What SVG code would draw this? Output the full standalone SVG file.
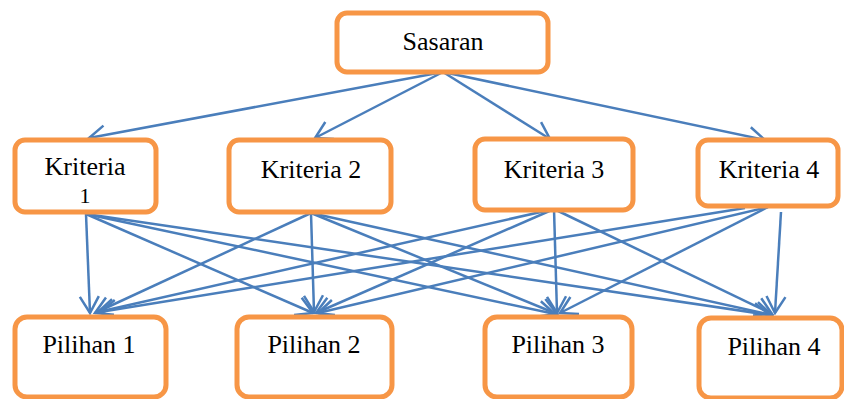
<svg xmlns="http://www.w3.org/2000/svg" width="844" height="399" viewBox="0 0 844 399">
<style>
.box{fill:#fff;stroke:#F79646;stroke-width:5}
.lbl{font-family:"Liberation Serif","Times New Roman",serif;font-size:26px;fill:#000;text-anchor:middle}
.conn line{stroke:#4A7EBB;stroke-width:2.5;marker-end:url(#arr)}
</style>
<defs>
<marker id="arr" markerUnits="userSpaceOnUse" viewBox="-20 -12 22 24" refX="0" refY="0" markerWidth="22" markerHeight="24" orient="auto">
<path d="M-16.5,-9.5 L0,0 L-16.5,9.5" fill="none" stroke="#4A7EBB" stroke-width="2.5"/>
</marker>
</defs>
<rect width="844" height="399" fill="#fff"/>
<g class="conn" id="connectors">
<line x1="443" y1="72" x2="89" y2="138"/>
<line x1="443" y1="72" x2="315" y2="138"/>
<line x1="443" y1="72" x2="550" y2="139"/>
<line x1="443" y1="72" x2="765" y2="140"/>
<line x1="86" y1="214" x2="90" y2="313"/>
<line x1="86" y1="214" x2="313" y2="313"/>
<line x1="86" y1="214" x2="555" y2="314"/>
<line x1="86" y1="214" x2="770" y2="315"/>
<line x1="311" y1="213" x2="95" y2="313"/>
<line x1="311" y1="213" x2="314" y2="312"/>
<line x1="311" y1="213" x2="557" y2="314"/>
<line x1="311" y1="213" x2="772" y2="315"/>
<line x1="554" y1="209" x2="98" y2="312"/>
<line x1="554" y1="209" x2="316" y2="313"/>
<line x1="554" y1="209" x2="557" y2="313"/>
<line x1="554" y1="209" x2="772" y2="314"/>
<line x1="745" y1="208" x2="100" y2="312"/>
<line x1="768" y1="207" x2="318" y2="313"/>
<line x1="768" y1="207" x2="560" y2="313"/>
<line x1="781" y1="212" x2="775" y2="313"/>
</g>
<g id="sasaran"><rect class="box" x="337" y="13" width="211" height="59" rx="10"/><text class="lbl" x="443" y="50">Sasaran</text></g>
<g id="kriteria1"><rect class="box" x="15" y="140" width="141" height="72" rx="10"/><text class="lbl" x="85" y="175">Kriteria</text><text class="lbl" x="85" y="203" style="font-size:22px">1</text></g>
<g id="kriteria2"><rect class="box" x="229" y="140" width="162" height="72" rx="10"/><text class="lbl" x="311" y="178">Kriteria 2</text></g>
<g id="kriteria3"><rect class="box" x="475" y="139" width="158" height="71" rx="10"/><text class="lbl" x="554" y="178">Kriteria 3</text></g>
<g id="kriteria4"><rect class="box" x="698" y="140" width="140" height="66" rx="10"/><text class="lbl" x="769" y="178">Kriteria 4</text></g>
<g id="pilihan1"><rect class="box" x="15" y="317" width="151" height="80" rx="12"/><text class="lbl" x="89" y="353">Pilihan 1</text></g>
<g id="pilihan2"><rect class="box" x="237" y="317" width="155" height="80" rx="12"/><text class="lbl" x="314" y="353">Pilihan 2</text></g>
<g id="pilihan3"><rect class="box" x="485" y="317" width="147" height="80" rx="12"/><text class="lbl" x="558" y="353">Pilihan 3</text></g>
<g id="pilihan4"><rect class="box" x="699" y="318" width="143" height="80" rx="12"/><text class="lbl" x="774" y="355">Pilihan 4</text></g>
</svg>
